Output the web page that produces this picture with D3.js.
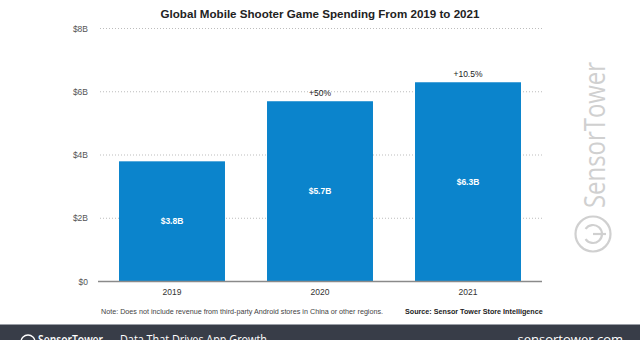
<!DOCTYPE html>
<html>
<head>
<meta charset="utf-8">
<script src="https://cdn.jsdelivr.net/npm/d3@7"></script>
<style>
  body { margin: 0; background: #fff; }
  svg { display: block; font-family: "Liberation Sans", Arial, sans-serif; }
</style>
</head>
<body>
<svg id="chart" width="640" height="340"></svg>
<script>
const years = ["2019", "2020", "2021"];
const spending = [3.8, 5.7, 6.3];
const valueLabels = ["$3.8B", "$5.7B", "$6.3B"];
const growthLabels = ["", "+50%", "+10.5%"];
const yTicks = [0, 2, 4, 6, 8];
const yTickLabels = ["$0", "$2B", "$4B", "$6B", "$8B"];

const svg = d3.select("#chart");

const x = d3.scaleBand()
    .domain(years)
    .range([98, 542])
    .paddingInner(0.284)
    .paddingOuter(0.142);
const y = d3.scaleLinear()
    .domain([0, 8])
    .range([281.5, 28.5]);

// title
svg.append("text")
    .attr("x", 320)
    .attr("y", 18)
    .attr("text-anchor", "middle")
    .style("font-size", "11.6px")
    .style("font-weight", "bold")
    .style("fill", "#222")
    .text("Global Mobile Shooter Game Spending From 2019 to 2021");

// watermark
svg.append("text")
    .attr("transform", "translate(605,135) rotate(-90)")
    .attr("text-anchor", "middle")
    .attr("textLength", 146)
    .attr("lengthAdjust", "spacingAndGlyphs")
    .style("font-family", "'Open Sans', sans-serif")
    .style("font-size", "30px")
    .style("fill", "#d0d0d0")
    .text("SensorTower");
const wm = svg.append("g").attr("fill", "none").attr("stroke", "#d0d0d0");
wm.append("circle").attr("cx", 593).attr("cy", 234).attr("r", 17.5).attr("stroke-width", 2.2);
wm.append("path")
    .attr("d", d3.arc()({ innerRadius: 9, outerRadius: 9, startAngle: 0.6, endAngle: Math.PI * 2 - 0.6 }))
    .attr("transform", "translate(593,234) rotate(-90)")
    .attr("stroke-width", 2.2);
wm.append("line").attr("x1", 593).attr("y1", 234).attr("x2", 606).attr("y2", 234).attr("stroke-width", 2.2);

// grid
const yAxis = d3.axisLeft(y)
    .tickValues(yTicks)
    .tickFormat((d, i) => yTickLabels[i])
    .tickSize(0)
    .tickPadding(10);
const gy = svg.append("g").attr("transform", "translate(98,0)").call(yAxis);
gy.select(".domain").remove();
gy.selectAll("text").style("font-size", "8.5px").style("fill", "#555").style("font-family", "'Liberation Sans', Arial, sans-serif");

svg.append("g").selectAll("line")
    .data(yTicks.filter(d => d > 0))
    .join("line")
    .attr("x1", 100)
    .attr("x2", 542)
    .attr("y1", d => y(d))
    .attr("y2", d => y(d))
    .attr("stroke", "#bdbdbd")
    .attr("stroke-width", 1)
    .attr("stroke-dasharray", "1,2");

// bars
svg.append("g").selectAll("rect")
    .data(spending)
    .join("rect")
    .attr("x", (d, i) => x(years[i]))
    .attr("y", d => y(d))
    .attr("width", x.bandwidth())
    .attr("height", d => y(0) - y(d))
    .attr("fill", "#0b84cc");

svg.append("g").selectAll("text")
    .data(spending)
    .join("text")
    .attr("x", (d, i) => x(years[i]) + x.bandwidth() / 2)
    .attr("y", d => (y(d) + y(0)) / 2 + 3)
    .attr("text-anchor", "middle")
    .style("font-size", "8.5px")
    .style("font-weight", "bold")
    .style("fill", "#fff")
    .text((d, i) => valueLabels[i]);

svg.append("g").selectAll("text")
    .data(spending)
    .join("text")
    .attr("x", (d, i) => x(years[i]) + x.bandwidth() / 2)
    .attr("y", d => y(d) - 5)
    .attr("text-anchor", "middle")
    .style("font-size", "8.5px")
    .style("fill", "#222")
    .text((d, i) => growthLabels[i]);

// x axis
const xAxis = d3.axisBottom(x).tickSize(0).tickPadding(7);
const gx = svg.append("g").attr("transform", "translate(0," + y(0) + ")").call(xAxis);
gx.select(".domain").attr("d", "M98,0H542").attr("stroke", "#8a8a8a").attr("stroke-width", 1.5);
gx.selectAll("text").style("font-size", "8.5px").style("fill", "#333").style("font-family", "'Liberation Sans', Arial, sans-serif");

// footnotes
svg.append("text")
    .attr("x", 101)
    .attr("y", 314)
    .style("font-size", "7.2px")
    .style("fill", "#444")
    .text("Note: Does not include revenue from third-party Android stores in China or other regions.");
svg.append("text")
    .attr("x", 405)
    .attr("y", 314)
    .style("font-size", "7.2px")
    .style("font-weight", "bold")
    .style("fill", "#222")
    .text("Source: Sensor Tower Store Intelligence");

// footer band
svg.append("rect").attr("x", 0).attr("y", 324).attr("width", 640).attr("height", 16).attr("fill", "#383d48");
svg.append("line").attr("x1", 0).attr("x2", 640).attr("y1", 324.5).attr("y2", 324.5).attr("stroke", "#9a9ea6");
svg.append("circle").attr("cx", 28).attr("cy", 342).attr("r", 7).attr("fill", "none").attr("stroke", "#fff").attr("stroke-width", 1.3);
const footFont = "'Open Sans', sans-serif";
svg.append("text")
    .attr("x", 38)
    .attr("y", 344)
    .attr("textLength", 65)
    .attr("lengthAdjust", "spacingAndGlyphs")
    .style("font-family", footFont)
    .style("font-size", "13px")
    .style("font-weight", "600")
    .style("fill", "#fff")
    .text("SensorTower");
svg.append("text")
    .attr("x", 120)
    .attr("y", 344)
    .attr("textLength", 147)
    .attr("lengthAdjust", "spacingAndGlyphs")
    .style("font-family", footFont)
    .style("font-size", "13px")
    .style("fill", "#fff")
    .text("Data That Drives App Growth");
svg.append("text")
    .attr("x", 623)
    .attr("y", 344)
    .attr("text-anchor", "end")
    .style("font-family", footFont)
    .style("font-size", "13px")
    .style("fill", "#fff")
    .text("sensortower.com");
</script>
</body>
</html>
